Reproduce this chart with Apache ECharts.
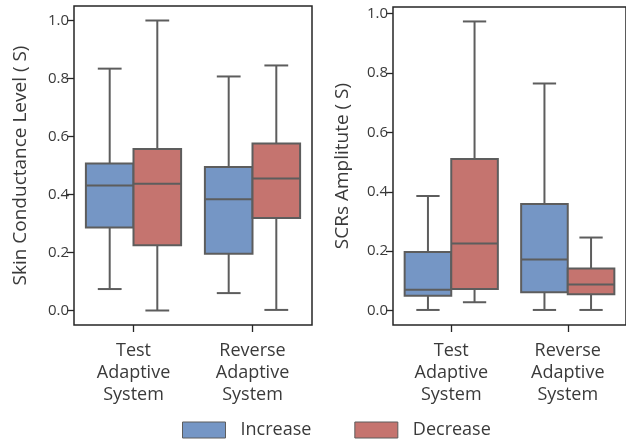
<!DOCTYPE html>
<html>
<head>
<meta charset="utf-8">
<script src="https://cdn.jsdelivr.net/npm/echarts@6/dist/echarts.min.js"></script>
<style>html,body{margin:0;padding:0;background:#fff;}#c{width:626px;height:444px;}</style>
</head>
<body>
<div id="c"></div>
<script>
// ---- data ----
const categories = ['Test\nAdaptive\nSystem', 'Reverse\nAdaptive\nSystem'];
const hues = ['Increase', 'Decrease'];
const yTicks = [0.0, 0.2, 0.4, 0.6, 0.8, 1.0];
const yNameLeft = 'Skin Conductance Level ( S)';
const yNameRight = 'SCRs Amplitute ( S)';
// each row: [low whisker, Q1, median, Q3, high whisker]
const sclIncrease = [[0.074, 0.286, 0.431, 0.507, 0.834], [0.060, 0.196, 0.384, 0.495, 0.807]];
const sclDecrease = [[0.000, 0.225, 0.437, 0.557, 1.000], [0.002, 0.319, 0.455, 0.576, 0.845]];
const scrIncrease = [[0.002, 0.050, 0.070, 0.197, 0.386], [0.002, 0.062, 0.172, 0.359, 0.765]];
const scrDecrease = [[0.028, 0.073, 0.226, 0.511, 0.974], [0.002, 0.055, 0.088, 0.142, 0.246]];

// ---- styles ----
const FONT = 'Open Sans';
const blue = '#7596c5';
const red = '#c5746f';
const edge = '#5d5d5d';
const spine = '#262626';
const txt = '#3a3a3a';

function rows(arr) { return arr.map((r, i) => [i].concat(r)); }
function maxOf(...sets) { let m = -Infinity; sets.forEach(s => s.forEach(r => r.forEach(v => { if (v > m) m = v; }))); return m; }

function makeRender(offset) {
  return function (params, api) {
    const cat = api.value(0);
    const band = api.size([1, 0])[0];
    const c = api.coord([cat, 0]);
    const bw = band * 0.4;
    const cx = c[0] + offset * band;
    const yLow = api.coord([cat, api.value(1)])[1];
    const yQ1 = api.coord([cat, api.value(2)])[1];
    const yMed = api.coord([cat, api.value(3)])[1];
    const yQ3 = api.coord([cat, api.value(4)])[1];
    const yHigh = api.coord([cat, api.value(5)])[1];
    const fill = api.visual('color');
    const ls = { stroke: edge, lineWidth: 2, fill: null };
    const cap = bw / 4;
    return {
      type: 'group',
      children: [
        { type: 'line', shape: { x1: cx, y1: yQ3, x2: cx, y2: yHigh }, style: ls },
        { type: 'line', shape: { x1: cx, y1: yQ1, x2: cx, y2: yLow }, style: ls },
        { type: 'line', shape: { x1: cx - cap, y1: yHigh, x2: cx + cap, y2: yHigh }, style: ls },
        { type: 'line', shape: { x1: cx - cap, y1: yLow, x2: cx + cap, y2: yLow }, style: ls },
        { type: 'rect', shape: { x: cx - bw / 2, y: yQ3, width: bw, height: yQ1 - yQ3 }, style: { fill: fill, stroke: edge, lineWidth: 2 } },
        { type: 'line', shape: { x1: cx - bw / 2, y1: yMed, x2: cx + bw / 2, y2: yMed }, style: ls }
      ]
    };
  };
}

function yAxis(idx, name, mx, gap) {
  return {
    type: 'value', gridIndex: idx, min: -0.05 * mx, max: 1.05 * mx,
    name: name, nameLocation: 'middle', nameGap: gap, nameRotate: 90,
    nameTextStyle: { fontFamily: FONT, fontSize: 19, color: txt },
    axisLine: { show: false },
    splitLine: { show: false },
    axisTick: { show: true, length: 7, customValues: yTicks, lineStyle: { color: spine, width: 1.3 } },
    axisLabel: { customValues: yTicks, formatter: v => v.toFixed(1), fontFamily: FONT, fontSize: 15, color: txt, margin: 5 }
  };
}
function xAxis(idx) {
  return {
    type: 'category', gridIndex: idx, data: categories,
    axisLine: { show: false, onZero: false },
    axisTick: { show: true, alignWithLabel: true, length: 7, lineStyle: { color: spine, width: 1.3 } },
    axisLabel: { fontFamily: FONT, fontSize: 18, color: txt, lineHeight: 22, margin: 15, interval: 0 },
    splitLine: { show: false }
  };
}

const mxL = maxOf(sclIncrease, sclDecrease);
const mxR = maxOf(scrIncrease, scrDecrease);

const chart = echarts.init(document.getElementById('c'), null, { renderer: 'canvas' });
chart.setOption({
  animation: false,
  color: [blue, red],
  grid: [
    { left: 74, top: 6, width: 238, height: 319, show: true, borderColor: spine, borderWidth: 1.5, backgroundColor: 'transparent' },
    { left: 393, top: 7, width: 238, height: 318, show: true, borderColor: spine, borderWidth: 1.5, backgroundColor: 'transparent' }
  ],
  xAxis: [xAxis(0), xAxis(1)],
  yAxis: [yAxis(0, yNameLeft, mxL, 44), yAxis(1, yNameRight, mxR, 41)],
  legend: {
    data: hues, left: 177, top: 416, itemWidth: 43, itemHeight: 16, itemGap: 43, icon: 'rect',
    itemStyle: { borderColor: edge, borderWidth: 1 },
    textStyle: { fontFamily: FONT, fontSize: 18, color: txt, padding: [0, 0, 0, 10] }
  },
  series: [
    { name: hues[0], type: 'custom', xAxisIndex: 0, yAxisIndex: 0, renderItem: makeRender(-0.2), data: rows(sclIncrease), encode: { x: 0, y: [1, 2, 3, 4, 5] }, itemStyle: { color: blue } },
    { name: hues[1], type: 'custom', xAxisIndex: 0, yAxisIndex: 0, renderItem: makeRender(0.2), data: rows(sclDecrease), encode: { x: 0, y: [1, 2, 3, 4, 5] }, itemStyle: { color: red } },
    { name: hues[0], type: 'custom', xAxisIndex: 1, yAxisIndex: 1, renderItem: makeRender(-0.2), data: rows(scrIncrease), encode: { x: 0, y: [1, 2, 3, 4, 5] }, itemStyle: { color: blue } },
    { name: hues[1], type: 'custom', xAxisIndex: 1, yAxisIndex: 1, renderItem: makeRender(0.2), data: rows(scrDecrease), encode: { x: 0, y: [1, 2, 3, 4, 5] }, itemStyle: { color: red } }
  ]
});
</script>
</body>
</html>
